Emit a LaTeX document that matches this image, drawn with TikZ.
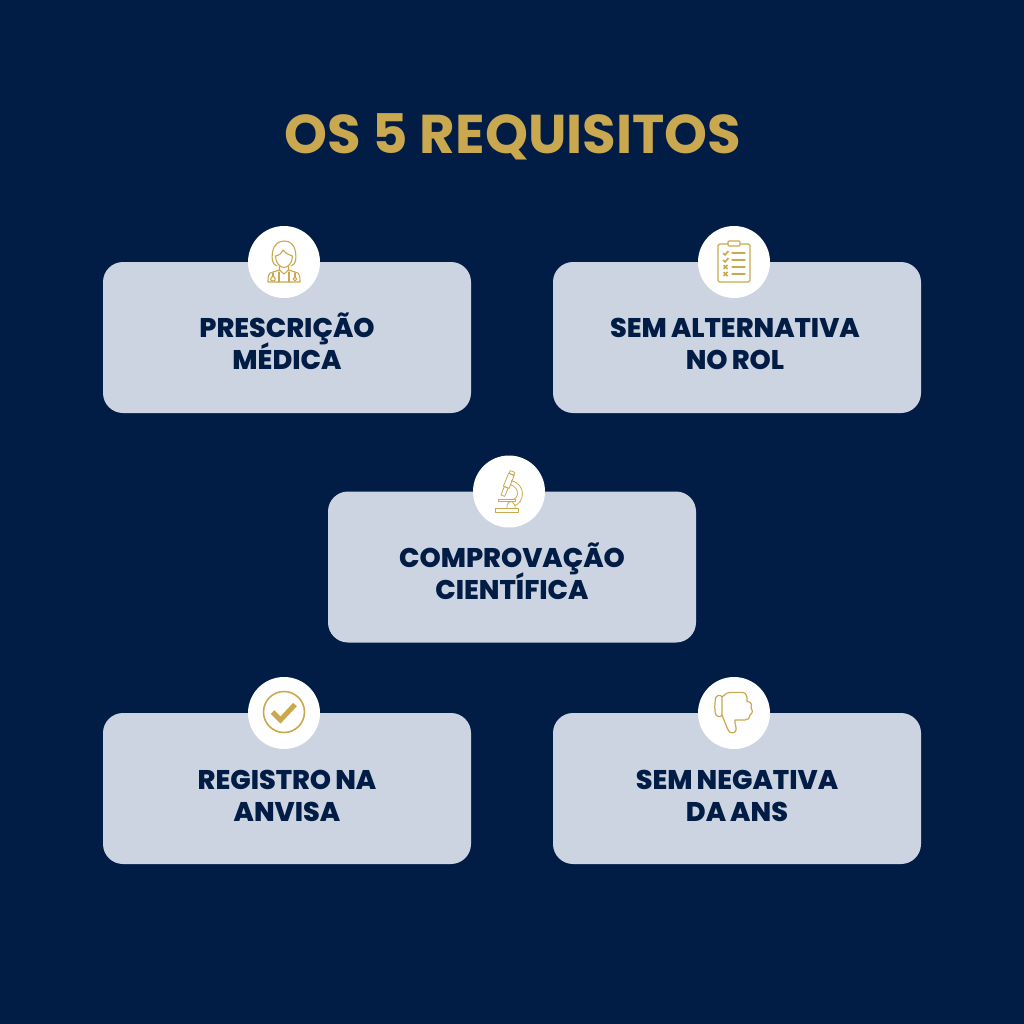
\documentclass[tikz,border=0pt]{standalone}
\usepackage{fontspec}
\setmainfont{Poppins}[BoldFont={Poppins ExtraBold}]
\newfontfamily\popc{Poppins}[BoldFont={Poppins Bold}]
\definecolor{navy}{HTML}{011C45}
\definecolor{card}{HTML}{CCD4E1}
\definecolor{gold}{HTML}{C9A84F}
\normallineskiplimit=-100pt
\lineskiplimit=-100pt
\AtBeginDocument{\normallineskiplimit=-100pt \lineskiplimit=-100pt}
\tikzset{
  cardbox/.style={fill=card,draw=none,rounded corners=20pt,minimum width=368pt,minimum height=151pt,inner sep=0pt},
  cardtext/.style={text=navy,align=center,inner sep=0pt,anchor=base,font=\fontsize{27}{32}\selectfont\bfseries},
  badge/.style={circle,fill=white,draw=none,minimum size=72pt,inner sep=0pt},
  ico/.style={draw=gold,line width=1.1pt,line join=round,line cap=round,fill=none},
}
\newcommand{\nsp}{\hspace{-0.04em}}
\begin{document}
\begin{tikzpicture}[x=1pt,y=-1pt]
\path[fill=navy] (0,0) rectangle (1024,1024);
\useasboundingbox (0,0) rectangle (1024,1024);
\node[text=gold,font=\popc\fontsize{54.6}{60}\selectfont\bfseries] (title) at (513,137) {OS 5 REQUISITOS};
\node[cardbox] (c1) at (287,337.5) {};
\node[cardbox] (c2) at (737,337.5) {};
\node[cardbox] (c3) at (512,567) {};
\node[cardbox] (c4) at (287,788.5) {};
\node[cardbox] (c5) at (737,788.5) {};
\node[cardtext] (t1) at ([yshift=-32pt]c1.center) {PRESCRIÇÃO\\MÉDICA};
\node[cardtext] (t2) at ([xshift=-2pt,yshift=-32pt]c2.center) {SEM\nsp{} ALTERNATIVA\\NO\nsp{} ROL};
\node[cardtext] (t3) at ([yshift=-32pt]c3.center) {COMPROVAÇÃO\\CIENTÍFICA};
\node[cardtext] (t4) at ([yshift=-33pt]c4.center) {REGISTRO\nsp{} NA\\ANVISA};
\node[cardtext] (t5) at ([yshift=-33pt]c5.center) {SEM\nsp{} NEGATIVA\\DA\nsp{} ANS};
\node[badge] (b1) at (284,262) {};
\node[badge] (b2) at (734,262) {};
\node[badge] (b3) at (509,491.5) {};
\node[badge] (b4) at (284,713) {};
\node[badge] (b5) at (734,713) {};
% doctor
\begin{scope}[shift={(b1.center)}]
\draw[ico] (-7,4) .. controls (-12,2) and (-12.5,-3) .. (-11.5,-10) .. controls (-10,-18) and (-5,-21) .. (0,-21) .. controls (6,-21) and (10,-18) .. (11.5,-10) .. controls (12.5,-3) and (12,2) .. (7,4);
\draw[ico] (-8.5,-6) .. controls (-4,-7) and (-2,-9) .. (-1,-12) .. controls (2,-8) and (6,-7) .. (8.5,-6) .. controls (8.5,1) and (4,5.5) .. (0,5.5) .. controls (-4,5.5) and (-8.5,1) .. (-8.5,-6);
\draw[ico] (-4.5,4) -- (-4.5,8) -- (-14,11) .. controls (-15.5,12) and (-16,14) .. (-16,20) -- (16,20) .. controls (16,14) and (15.5,12) .. (14,11) -- (4.5,8) -- (4.5,4);
\draw[ico] (-4.5,8) -- (0,12) -- (4.5,8);
\draw[ico] (-5,20) -- (-5,10) (5,20) -- (5,10);
\draw[ico] (-11,11) -- (-11,14);
\draw[ico] (-11,14) .. controls (-14,16) and (-14,19) .. (-11,19) .. controls (-8,19) and (-8,16) .. (-11,14);
\draw[ico] (11,11) -- (11,15);
\draw[ico] (11,17) circle (1.8);
\end{scope}
% clipboard
\begin{scope}[shift={(b2.center)}]
\draw[ico,rounded corners=1.5pt] (-16,-18) rectangle (16,20);
\draw[ico,rounded corners=1pt,fill=white] (-6,-21) rectangle (6,-16);
\foreach \yy in {-9,-2} {
  \draw[gold,line width=1.7pt,line join=round] (-11,\yy) -- (-9,{\yy+2}) -- (-5.5,{\yy-2});
}
\foreach \yy in {5,12} {
  \draw[gold,line width=1.7pt] (-10.5,{\yy-2}) -- (-6.5,{\yy+2}) (-10.5,{\yy+2}) -- (-6.5,{\yy-2});
}
\foreach \yy in {-9,-2,5,12} {
  \draw[ico,line width=1.3pt] (-2,\yy) -- (11,\yy);
}
\end{scope}
% microscope
\begin{scope}[shift={(b3.center)},every path/.append style={ico,line width=.8pt}]
\draw (-14,17) rectangle (9,20.5);
\draw (-10.7,8.3) rectangle (6,10);
\draw (1.2,-20.9) -- (5.8,-19.1) -- (4.7,-16.3) -- (0.1,-18.1) -- cycle;
\draw (-0.4,-18.3) -- (5.2,-16.1) -- (0,-3.1) -- (-5.6,-5.3) -- cycle;
\draw (-4.7,-4.9) -- (-0.9,-3.5) -- (-4.2,4.9) -- (-8,3.5) -- cycle;
\draw (2.5,-11) .. controls (9,-9) and (13.5,-4) .. (13.5,2) .. controls (13.5,8) and (10,12.5) .. (6,14);
\draw (1.5,-7) .. controls (6,-5) and (8.5,-2) .. (8.5,2) .. controls (8.5,5) and (6,8.3) .. (3,8.3);
\draw (-2,17) -- (-2,13.5) .. controls (-2,11) and (1,10) .. (3,10) (3,10) -- (6,14) -- (6,17);
\end{scope}
% check
\begin{scope}[shift={(b4.center)}]
\draw[ico,line width=1.6pt] (0,-1) circle (20.5);
\draw[gold,line width=5pt,line cap=butt,line join=miter] (-11.5,-1) -- (-3.5,7) -- (11,-8.5);
\end{scope}
% thumb down
\begin{scope}[shift={(b5.center)}]
\draw[ico,line width=1.2pt,rounded corners=2pt] (-12,-17.5) -- (-18,-17.5) .. controls (-19.5,-8) and (-19.5,-4) .. (-18,3.5) -- (-12,3.5) -- cycle;
\draw[ico,line width=1.2pt] (-12,-16) .. controls (-10,-18) and (-7,-20.5) .. (-4,-20.5) -- (9,-20.5) .. controls (12.5,-20.5) and (13.5,-15) .. (13,-11.5) .. controls (17,-11.5) and (18.5,-8) .. (17,-5.5) .. controls (19,-3.5) and (19,0) .. (16,2) .. controls (16,5) and (14,7) .. (11,7) -- (1,7) .. controls (0.5,10) and (2.5,14) .. (2,17) .. controls (1.5,20) and (-2,20.5) .. (-4,19.5) .. controls (-6,18) and (-8,12) .. (-12,2);
\end{scope}
\end{tikzpicture}
\end{document}
